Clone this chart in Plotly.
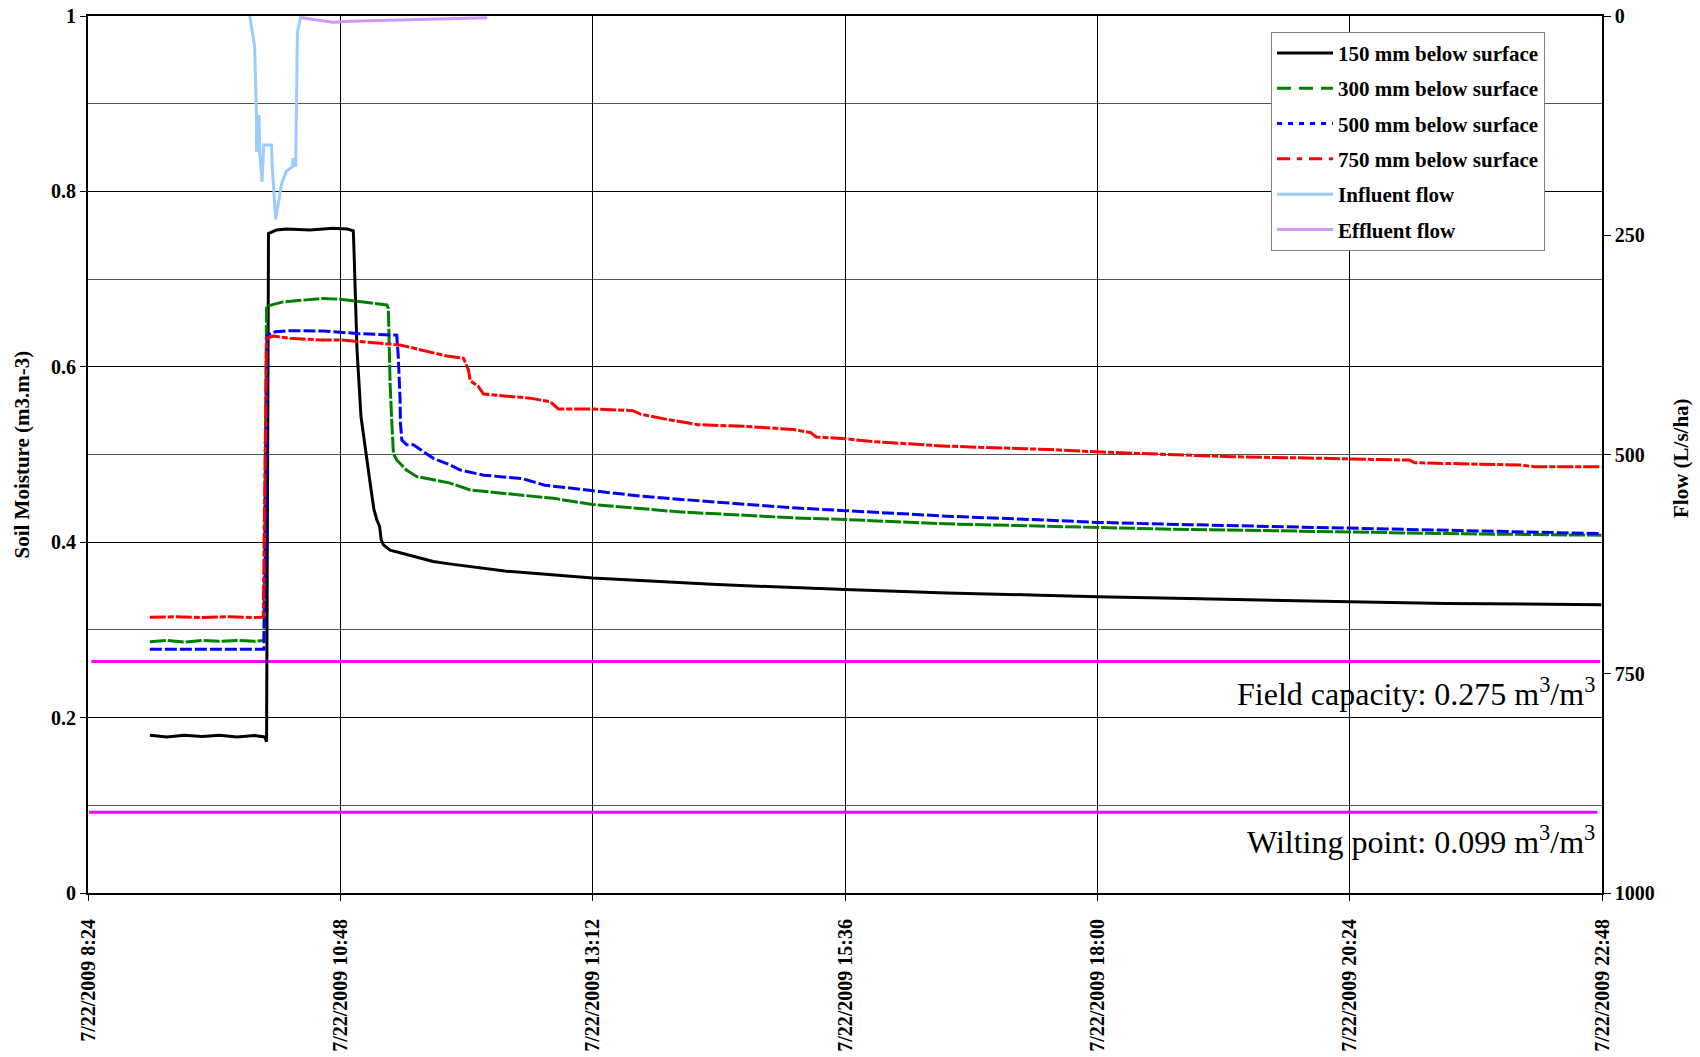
import plotly.graph_objects as go

DAY = "2009-07-22 "

# ---------------- data ----------------
t_150 = ["08:59:18", "09:09:00", "09:19:00", "09:29:00", "09:39:00", "09:49:00", "09:59:00",
         "10:04:54", "10:05:54", "10:06:30", "10:07:00", "10:11:36", "10:17:24", "10:30:42",
         "10:43:48", "10:52:00", "10:55:24", "10:55:48", "10:57:30", "10:59:48", "11:01:30",
         "11:03:30", "11:05:00", "11:07:12", "11:08:54", "11:10:24", "11:11:18", "11:12:36",
         "11:16:24", "11:22:06", "11:41:00", "11:50:12", "12:22:54", "13:12:00", "14:22:54",
         "15:36:00", "16:33:48", "17:27:18", "18:00:00", "18:51:36", "19:54:54", "20:24:00",
         "21:19:12", "22:47:42"]
v_150 = [0.180, 0.178, 0.180, 0.1785, 0.180, 0.178, 0.1795,
         0.178, 0.1725, 0.45, 0.752, 0.756, 0.757, 0.756,
         0.758, 0.757, 0.755, 0.733, 0.62, 0.543, 0.52,
         0.49, 0.4675, 0.437, 0.425, 0.418, 0.403, 0.397,
         0.391, 0.388, 0.378, 0.3753, 0.3669, 0.3593, 0.3517,
         0.346, 0.3422, 0.3396, 0.3377, 0.3358, 0.3328, 0.3321,
         0.3302, 0.3287]

t_300 = ["08:59:18", "09:09:00", "09:19:00", "09:29:00", "09:39:00", "09:49:00", "09:59:00",
         "10:04:24", "10:05:54", "10:15:18", "10:38:18", "10:47:48", "11:01:06", "11:14:30",
         "11:15:24", "11:15:36", "11:16:24", "11:17:24", "11:18:18", "11:20:12", "11:25:54",
         "11:31:42", "11:50:12", "12:02:06", "12:22:54", "12:49:42", "13:12:00", "14:01:06",
         "15:06:36", "15:36:00", "16:33:48", "17:32:18", "18:00:00", "18:44:18", "19:38:00",
         "20:24:00", "21:19:12", "22:47:42"]
v_300 = [0.2866, 0.288, 0.286, 0.288, 0.287, 0.288, 0.287,
         0.288, 0.669, 0.674, 0.678, 0.677, 0.674, 0.6705,
         0.6667, 0.642, 0.581, 0.5356, 0.501, 0.4937, 0.482,
         0.4747, 0.4677, 0.4595, 0.4551, 0.450, 0.443, 0.4346,
         0.4278, 0.4259, 0.4209, 0.4183, 0.4174, 0.4147, 0.4132,
         0.4117, 0.4098, 0.4079]

t_500 = ["08:59:18", "09:14:00", "09:34:00", "09:54:00", "10:04:24", "10:05:18", "10:06:18",
         "10:11:00", "10:19:18", "10:38:18", "10:57:24", "11:20:12", "11:21:06", "11:22:06",
         "11:22:18", "11:23:06", "11:25:54", "11:29:42", "11:41:06", "11:50:12", "11:56:24",
         "12:09:48", "12:31:36", "12:44:42", "13:12:00", "13:39:18", "14:22:54", "15:06:36",
         "15:36:00", "16:33:48", "17:32:18", "18:00:00", "18:51:36", "19:33:48", "20:24:00",
         "20:58:06", "22:01:24", "22:47:42"]
v_500 = [0.2779, 0.278, 0.278, 0.278, 0.278, 0.40, 0.636,
         0.640, 0.6412, 0.6408, 0.638, 0.636, 0.611, 0.562,
         0.536, 0.5165, 0.511, 0.511, 0.4956, 0.4886, 0.4823,
         0.4764, 0.4726, 0.465, 0.459, 0.4525, 0.4456, 0.4392,
         0.436, 0.4297, 0.4251, 0.4226, 0.420, 0.4181, 0.4155,
         0.4143, 0.4117, 0.4098]

t_750 = ["08:59:18", "09:14:00", "09:29:00", "09:44:00", "09:59:00", "10:04:00", "10:04:12",
         "10:05:00", "10:05:54", "10:09:42", "10:19:18", "10:36:24", "10:47:48", "11:22:06",
         "11:33:30", "11:48:48", "11:58:18", "12:01:06", "12:02:12", "12:06:36", "12:09:42",
         "12:37:06", "12:48:00", "12:52:24", "13:12:00", "13:34:54", "13:39:18", "13:54:30",
         "14:12:00", "14:40:24", "15:06:36", "15:16:24", "15:19:36", "15:36:00", "15:50:12",
         "16:33:48", "17:32:18", "18:00:00", "18:41:06", "19:17:00", "19:54:54", "20:24:00",
         "20:58:06", "21:01:18", "22:01:24", "22:09:48", "22:47:42"]
v_750 = [0.3143, 0.315, 0.314, 0.315, 0.314, 0.3145, 0.345,
         0.50, 0.6325, 0.635, 0.6325, 0.6306, 0.6306, 0.6249,
         0.6192, 0.6123, 0.6097, 0.5963, 0.584, 0.578, 0.569,
         0.564, 0.560, 0.552, 0.552, 0.550, 0.546, 0.540,
         0.534, 0.532, 0.5285, 0.525, 0.520, 0.518, 0.515,
         0.5095, 0.5057, 0.503, 0.500, 0.4974, 0.4962, 0.4947,
         0.4936, 0.4906, 0.4879, 0.486, 0.486]

t_influent = ["09:56:18", "09:59:06", "10:00:06", "10:00:12", "10:01:36", "10:02:00", "10:03:18",
              "10:04:18", "10:08:42", "10:09:12", "10:11:06", "10:14:24", "10:17:12", "10:20:36",
              "10:21:00", "10:22:30", "10:23:30", "10:25:24"]
v_influent = [0, 35, 110, 155, 113, 155, 189,
              147, 147, 173, 232, 192, 177, 172,
              162, 172, 19, 0]

t_effluent = ["10:25:54", "10:36:24", "10:43:48", "10:53:30", "11:10:42", "11:33:30", "11:56:24",
              "12:11:48"]
v_effluent = [2, 5, 7, 6, 5, 4, 3, 2]

t_field = ["08:25:54", "22:47:00"]
v_field = [0.264, 0.264]
t_wilt = ["08:24:36", "22:45:24"]
v_wilt = [0.092, 0.092]

x_tickvals = ["08:24", "10:48", "13:12", "15:36", "18:00", "20:24", "22:48"]
x_ticktext = ["7/22/2009 8:24", "7/22/2009 10:48", "7/22/2009 13:12", "7/22/2009 15:36",
              "7/22/2009 18:00", "7/22/2009 20:24", "7/22/2009 22:48"]
y_tickvals = [0, 0.2, 0.4, 0.6, 0.8, 1]
y_ticktext = ["0", "0.2", "0.4", "0.6", "0.8", "1"]
y2_tickvals = [0, 250, 500, 750, 1000]

names = ["150 mm below surface", "300 mm below surface", "500 mm below surface",
         "750 mm below surface", "Influent flow", "Effluent flow"]
# ----------------------------------------------------------------


def ts(lst):
    return [DAY + t for t in lst]


SERIF = "Liberation Serif, Times New Roman, serif"

fig = go.Figure()

# reference lines
fig.add_trace(go.Scatter(x=ts(t_field), y=v_field, mode="lines", showlegend=False,
                         line=dict(color="#FF00FF", width=3), hoverinfo="skip"))
fig.add_trace(go.Scatter(x=ts(t_wilt), y=v_wilt, mode="lines", showlegend=False,
                         line=dict(color="#FF00FF", width=3), hoverinfo="skip"))

series = [
    (t_150, v_150, "#000000", "solid", "solid", "y"),
    (t_300, v_300, "#008000", "16px,2px", "14px,8px", "y"),
    (t_500, v_500, "#0000FF", "12px,3px", "5px,6px", "y"),
    (t_750, v_750, "#FF0000", "16px,2px,6px,2px", "13px,7px,5px,7px", "y"),
    (t_influent, v_influent, "#99CCFF", "solid", "solid", "y2"),
    (t_effluent, v_effluent, "#CC99FF", "solid", "solid", "y2"),
]

# actual data traces
for (t, v, col, dash, _, ax) in series:
    fig.add_trace(go.Scatter(x=ts(t), y=v, mode="lines", yaxis=ax, showlegend=False,
                             line=dict(color=col, width=3, dash=dash)))

# legend entries (legend dash style)
for i, (t, v, col, _, ldash, ax) in enumerate(series):
    fig.add_trace(go.Scatter(x=[None], y=[None], mode="lines", name=names[i], yaxis=ax,
                             legendgroup=f"g{i}", showlegend=True,
                             line=dict(color=col, width=3, dash=ldash)))

fig.update_layout(
    width=1700, height=1057,
    margin=dict(l=88, r=98, t=16, b=164, autoexpand=False),
    paper_bgcolor="white", plot_bgcolor="white",
    font=dict(family=SERIF, color="black"),
    showlegend=True,
    legend=dict(x=0.7814, y=0.982, xanchor="left", yanchor="top",
                bgcolor="white", bordercolor="#808080", borderwidth=1,
                font=dict(family=SERIF, size=21, color="black", weight="bold"),
                tracegroupgap=5, itemwidth=56, traceorder="grouped"),
    xaxis=dict(type="date", automargin=False,
               range=[DAY + "08:24", DAY + "22:48"],
               tickvals=ts(x_tickvals), ticktext=x_ticktext, tickangle=-90,
               tickfont=dict(family=SERIF, size=20, color="black", weight="bold"),
               ticks="outside", ticklen=6, tickcolor="black", ticklabelstandoff=10,
               showgrid=True, gridcolor="black", gridwidth=1,
               showline=True, linecolor="black", linewidth=2, mirror=True,
               zeroline=False),
    yaxis=dict(range=[0, 1], tickvals=y_tickvals, ticktext=y_ticktext, automargin=False,
               tickfont=dict(family=SERIF, size=20, color="black", weight="bold"),
               ticks="outside", ticklen=6, tickcolor="black",
               showgrid=True, gridcolor="black", gridwidth=1,
               minor=dict(dtick=0.1, tick0=0, showgrid=True, gridcolor="#555555", gridwidth=1, ticks=""),
               showline=True, linecolor="black", linewidth=2, mirror=True,
               zeroline=False),
    yaxis2=dict(range=[1000, 0], overlaying="y", side="right", automargin=False,
                tickvals=y2_tickvals, ticktext=[str(v) for v in y2_tickvals],
                tickfont=dict(family=SERIF, size=20, color="black", weight="bold"),
                ticks="outside", ticklen=7, tickcolor="black",
                showgrid=False, showline=True, linecolor="black", linewidth=1.5,
                zeroline=False),
)

fig.add_annotation(text="Soil Moisture (m3.m-3)", xref="paper", yref="paper", x=0, y=0.5,
                   xshift=-67, textangle=-90, showarrow=False, xanchor="center", yanchor="middle",
                   font=dict(family=SERIF, size=21, color="black", weight="bold"))
fig.add_annotation(text="Flow (L/s/ha)", xref="paper", yref="paper", x=1, y=0.496,
                   xshift=79, textangle=-90, showarrow=False, xanchor="center", yanchor="middle",
                   font=dict(family=SERIF, size=21, color="black", weight="bold"))
fig.add_annotation(text="Field capacity: 0.275 m<sup>3</sup>/m<sup>3</sup>", xref="paper", yref="paper",
                   x=1, y=0.229, xshift=-5, showarrow=False, xanchor="right", yanchor="middle",
                   font=dict(family=SERIF, size=32, color="black"))
fig.add_annotation(text="Wilting point: 0.099 m<sup>3</sup>/m<sup>3</sup>", xref="paper", yref="paper",
                   x=1, y=0.0604, xshift=-5, showarrow=False, xanchor="right", yanchor="middle",
                   font=dict(family=SERIF, size=32, color="black"))

fig.write_html("out.html")
